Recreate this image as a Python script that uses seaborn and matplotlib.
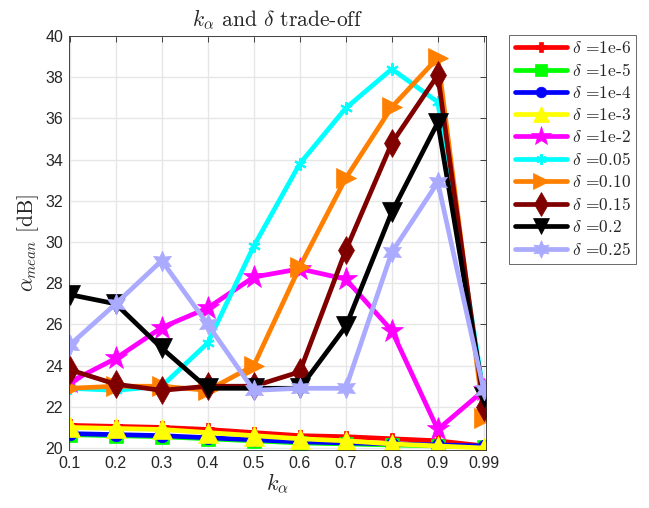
import matplotlib
matplotlib.use("Agg")
import matplotlib.pyplot as plt
import seaborn as sns
import pandas as pd
import numpy as np

k_alpha = ["0.1", "0.2", "0.3", "0.4", "0.5", "0.6", "0.7", "0.8", "0.9", "0.99"]

d_1e6 = [21.1, 21.05, 21.0, 20.9, 20.75, 20.6, 20.55, 20.45, 20.35, 20.1]
d_1e5 = [20.65, 20.6, 20.55, 20.45, 20.35, 20.25, 20.2, 20.15, 20.1, 20.05]
d_1e4 = [20.7, 20.65, 20.6, 20.5, 20.4, 20.3, 20.25, 20.2, 20.15, 20.1]
d_1e3 = [21.0, 20.95, 20.9, 20.75, 20.6, 20.45, 20.35, 20.2, 20.1, 20.0]
d_1e2 = [23.2, 24.35, 25.85, 26.8, 28.3, 28.7, 28.2, 25.7, 20.9, 22.8]
d_005 = [22.9, 22.8, 23.0, 25.1, 29.8, 33.8, 36.5, 38.4, 36.8, 22.6]
d_010 = [22.9, 23.0, 23.0, 22.8, 24.0, 28.8, 33.1, 36.55, 38.95, 21.45]
d_015 = [23.8, 23.1, 22.8, 23.0, 23.0, 23.7, 29.6, 34.8, 38.1, 22.0]
d_020 = [27.45, 27.0, 24.85, 22.9, 22.9, 22.9, 25.9, 31.45, 35.8, 22.5]
d_025 = [25.0, 27.0, 29.1, 26.0, 22.8, 22.9, 22.9, 29.5, 32.9, 22.8]

labels = [r"$\delta$ =1e-6", r"$\delta$ =1e-5", r"$\delta$ =1e-4", r"$\delta$ =1e-3",
          r"$\delta$ =1e-2", r"$\delta$ =0.05", r"$\delta$ =0.10", r"$\delta$ =0.15",
          r"$\delta$ =0.2", r"$\delta$ =0.25"]
series = [d_1e6, d_1e5, d_1e4, d_1e3, d_1e2, d_005, d_010, d_015, d_020, d_025]
colors = ["#ff0000", "#00ff00", "#0000ff", "#ffff00", "#ff00ff", "#00ffff",
          "#ff8000", "#800000", "#000000", "#aaaaff"]
markers = ["P", "s", "o", "^", "*", (6, 2, 0), ">", "d", "v", (6, 1, 0)]
msizes = [9, 10, 9, 14, 17, 9, 14, 14, 14, 15]

sns.set_theme(style="white")
plt.rcParams["mathtext.fontset"] = "cm"
plt.rcParams["font.family"] = ["Liberation Sans", "DejaVu Sans"]

fig = plt.figure(figsize=(6.49, 5.08), dpi=100)
ax = fig.add_axes([0.106, 0.114, 0.643, 0.815])

xpos = np.arange(len(k_alpha))
for lab, vals, c, m, ms in zip(labels, series, colors, markers, msizes):
    df = pd.DataFrame({"x": xpos, "y": vals})
    sns.lineplot(data=df, x="x", y="y", ax=ax, color=c, marker=m, markersize=ms,
                 linewidth=3.4, markeredgecolor=c, markeredgewidth=1.5 if m == (6, 2, 0) else 0.5,
                 label=lab, sort=False)

ax.set_xlim(xpos[0] - 0.02, xpos[-1] + 0.05)
ax.set_ylim(19.9, 40)
ax.set_xticks(xpos)
ax.set_xticklabels(k_alpha)
ax.set_yticks(np.arange(20, 41, 2))
ax.grid(True, color="#e6e6e6", linewidth=1)
ax.set_axisbelow(True)
for s in ax.spines.values():
    s.set_color("#262626")
    s.set_linewidth(0.6)
    s.set_visible(True)
ax.tick_params(direction="in", top=True, right=True, length=4, width=0.6,
               colors="#262626", labelsize=11.5, pad=4)
ax.set_xlabel(r"$k_\alpha$", fontsize=16, labelpad=1)
ax.set_ylabel(r"$\alpha_{mean}$ [dB]", fontsize=15.5, labelpad=3)
ax.set_title(r"$k_\alpha$ and $\delta$ trade-off", fontsize=15.5, pad=7)
ax.yaxis.label.set_fontfamily(["cmr10"])
ax.title.set_fontfamily(["cmr10"])

leg = ax.legend(loc="upper left", bbox_to_anchor=(0.785, 0.932), bbox_transform=fig.transFigure,
                frameon=True, fancybox=False, edgecolor="#262626",
                handlelength=3.0, handletextpad=0.3, labelspacing=0.35, borderpad=0.3,
                borderaxespad=0, markerscale=0.85, prop={"family": "cmr10", "size": 12.5})
leg.get_frame().set_linewidth(0.6)

fig.savefig("out.png", dpi=100)
